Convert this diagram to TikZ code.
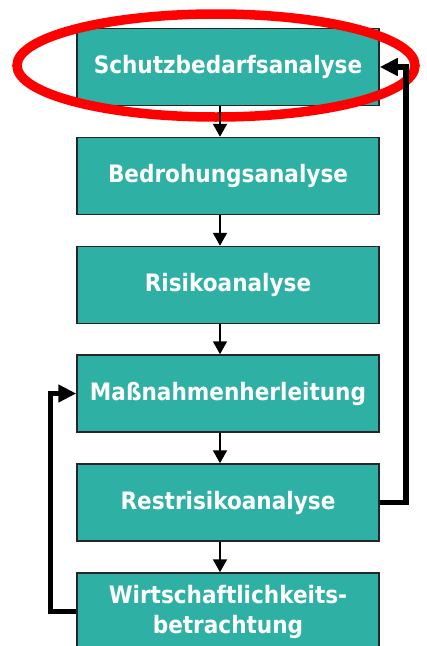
\documentclass[tikz,border=0pt]{standalone}
\usepackage{fontspec}
\setmainfont{DejaVu Sans Condensed}[BoldFont={DejaVu Sans Condensed Bold}]
\usetikzlibrary{arrows.meta}
\definecolor{boxteal}{RGB}{46,176,165}
\definecolor{markred}{RGB}{255,0,0}
\begin{document}
\begin{tikzpicture}[x=1pt,y=-1pt,
  stagebox/.style={draw=black!85, line width=1.5pt, fill=boxteal,
    minimum width=302pt, minimum height=77pt, inner sep=0pt,
    text=white, font=\bfseries\fontsize{24}{30}\selectfont, align=center},
  flow/.style={line width=2pt, -{Triangle[length=13pt,width=14pt]}},
  loop/.style={line width=5.5pt, -{Triangle[length=18pt,width=17pt]}}]
  \useasboundingbox (0,0) rectangle (427,646);
  \begin{scope}
    \clip (0,0) rectangle (427,646);
    \node[stagebox] (s1) at (228,67)    {Schutzbedarfsanalyse};
    \node[stagebox] (s2) at (228,176)   {Bedrohungsanalyse};
    \node[stagebox] (s3) at (228,285)   {Risikoanalyse};
    \node[stagebox] (s4) at (228,393.5) {Maßnahmenherleitung};
    \node[stagebox] (s5) at (228,502.5) {Restrisikoanalyse};
    \node[stagebox] (s6) at (228,611.5) {Wirtschaftlichkeits-\\betrachtung};
    % highlight ring round the first stage
    \draw[markred, line width=9.5pt] (216,65.5) ellipse [x radius=199, y radius=51.5];
    % main sequence, drawn on a common vertical line
    \coordinate (ax) at (220,0);
    \draw[flow] (s1.south -| ax) -- (s2.north -| ax);
    \draw[flow] (s2.south -| ax) -- (s3.north -| ax);
    \draw[flow] (s3.south -| ax) -- (s4.north -| ax);
    \draw[flow] (s4.south -| ax) -- (s5.north -| ax);
    \draw[flow] (s5.south -| ax) -- (s6.north -| ax);
    % feedback loops
    \coordinate (rr) at (406,0);
    \coordinate (ll) at (50.5,0);
    \draw[loop] (s5.east) -- (rr |- s5.east) -- (rr |- s1.east) -- (s1.east);
    \draw[loop] (s6.west) -- (ll |- s6.west) -- (ll |- s4.west) -- (s4.west);
  \end{scope}
\end{tikzpicture}
\end{document}
